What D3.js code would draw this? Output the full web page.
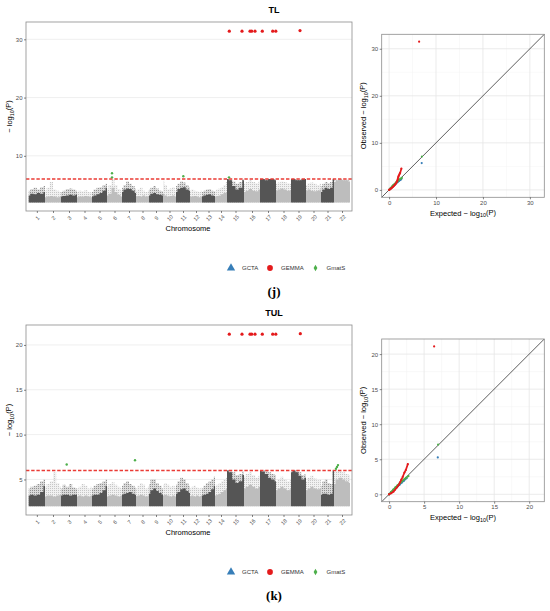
<!DOCTYPE html>
<html>
<head>
<meta charset="utf-8">
<script src="https://cdn.jsdelivr.net/npm/d3@7"></script>
<style>
  body { margin: 0; background: #fff; }
  text { font-family: "Liberation Sans", Arial, sans-serif; }
  text.panel-tag { font-family: "Liberation Serif", "Times New Roman", serif; }
</style>
</head>
<body>
<script>
// ---- data ----
const chromosomes = d3.range(1, 23).map(String);
const chromLengths = [16.3, 16, 16, 15, 15, 15, 14, 13, 14, 13, 14, 12, 13, 12, 17, 16, 16, 15, 15, 15, 13, 16];
const threshold = 6;

// upper edge of the solid mass of SNPs, 6 samples across each chromosome
const tlDense = [
  [3.2, 3.5, 3.4, 3.6, 3.5, 3.8], [2.9, 3.0, 3.1, 3.0, 2.9, 3.0], [3.0, 3.1, 3.2, 3.3, 3.2, 3.3],
  [2.9, 3.0, 3.0, 3.1, 3.0, 2.9], [3.0, 3.2, 3.4, 3.6, 4.0, 4.5], [3.2, 3.5, 4.5, 3.8, 3.3, 3.0],
  [3.8, 4.2, 4.4, 4.3, 4.0, 3.6], [3.0, 3.1, 3.0, 3.2, 3.0, 3.1], [3.2, 3.5, 3.6, 3.4, 3.3, 3.2],
  [3.5, 3.2, 3.0, 3.1, 3.2, 3.0], [3.8, 4.3, 4.5, 4.6, 4.2, 4.0], [3.0, 3.0, 3.1, 3.0, 2.9, 3.0],
  [3.0, 3.2, 3.3, 3.4, 3.2, 3.1], [3.0, 3.1, 3.2, 3.4, 3.6, 3.8], [6.0, 5.8, 4.8, 4.2, 4.5, 5.8],
  [3.8, 4.0, 4.3, 4.0, 3.9, 4.2], [6.0, 6.0, 5.8, 6.0, 6.0, 5.8], [4.0, 4.2, 4.4, 4.2, 4.0, 4.1],
  [6.0, 6.0, 5.8, 5.8, 6.0, 6.0], [4.0, 4.2, 4.0, 3.9, 4.0, 4.2], [3.8, 4.2, 4.5, 4.3, 4.5, 6.0],
  [5.5, 5.8, 6.0, 5.8, 5.8, 5.6]
];
// upper edge of the scattered SNPs
const tlSparse = [
  [4.0, 4.3, 4.5, 4.2, 4.6, 4.8], [4.0, 4.5, 5.5, 4.2, 4.0, 3.8], [3.8, 4.0, 4.3, 4.4, 4.2, 4.0],
  [3.8, 4.0, 3.9, 4.1, 3.8, 3.7], [3.8, 4.2, 4.5, 4.6, 5.0, 5.2], [4.2, 5.0, 6.0, 5.0, 4.3, 4.0],
  [4.5, 5.0, 5.6, 5.2, 4.8, 4.4], [4.0, 4.2, 4.5, 4.0, 3.8, 4.0], [4.2, 4.5, 4.8, 4.4, 4.0, 3.9],
  [5.7, 5.0, 4.2, 4.4, 4.6, 4.0], [4.8, 5.2, 5.6, 5.4, 5.0, 4.6], [4.0, 4.2, 4.0, 3.9, 3.8, 4.0],
  [3.8, 4.0, 4.2, 4.3, 4.0, 3.9], [4.0, 4.2, 4.4, 4.6, 5.0, 5.5], [6.0, 6.0, 5.6, 5.2, 5.5, 6.0],
  [5.2, 5.5, 5.8, 5.5, 5.3, 5.6], [6.0, 6.0, 6.0, 6.0, 6.0, 6.0], [5.2, 5.4, 5.6, 5.5, 5.3, 5.2],
  [6.0, 6.0, 6.0, 6.0, 6.0, 6.0], [5.0, 5.3, 5.4, 5.2, 5.0, 5.2], [4.8, 5.2, 5.5, 5.3, 5.5, 6.0],
  [6.0, 6.0, 6.0, 6.0, 6.0, 6.0]
];
const tulDense = [
  [3.2, 3.3, 3.2, 3.3, 3.6, 4.3], [3.1, 3.2, 3.2, 3.1, 3.2, 3.3], [3.2, 3.3, 3.3, 3.2, 3.3, 3.3],
  [3.1, 3.2, 3.1, 3.2, 3.1, 3.2], [3.2, 3.3, 3.3, 3.5, 3.8, 4.3], [3.1, 3.2, 3.3, 3.2, 3.1, 3.2],
  [3.3, 3.4, 3.5, 3.6, 3.4, 3.3], [3.1, 3.2, 3.3, 3.2, 3.1, 3.2], [3.4, 3.8, 4.0, 3.7, 3.5, 3.3],
  [3.2, 3.3, 3.2, 3.1, 3.2, 3.1], [3.4, 3.6, 3.9, 4.0, 3.7, 3.5], [3.1, 3.2, 3.1, 3.2, 3.1, 3.2],
  [3.2, 3.3, 3.4, 3.6, 3.9, 4.3], [3.2, 3.3, 3.4, 3.6, 3.8, 4.0], [6.0, 5.8, 5.0, 4.6, 4.8, 5.5],
  [4.0, 4.2, 4.4, 4.2, 4.0, 4.2], [6.0, 5.9, 5.6, 5.2, 5.0, 4.8], [3.8, 4.0, 4.2, 4.0, 3.8, 3.9],
  [5.8, 6.0, 5.8, 5.4, 5.0, 5.2], [3.8, 4.0, 4.2, 4.0, 3.9, 4.0], [3.3, 3.4, 3.4, 3.3, 3.4, 6.0],
  [4.5, 5.0, 5.2, 5.0, 4.8, 4.6]
];
const tulSparse = [
  [4.0, 4.2, 4.3, 4.5, 4.8, 5.0], [4.2, 4.5, 4.8, 5.8, 4.6, 4.2], [4.0, 4.4, 4.2, 4.5, 4.1, 4.0],
  [4.0, 4.2, 4.5, 4.3, 4.0, 4.2], [4.0, 4.3, 4.5, 4.6, 4.8, 5.0], [4.2, 4.5, 4.7, 4.4, 4.2, 4.0],
  [4.3, 4.6, 4.8, 4.5, 4.3, 4.1], [4.0, 4.3, 4.6, 4.4, 4.0, 4.2], [4.5, 5.0, 5.0, 4.6, 4.3, 4.0],
  [4.4, 4.6, 4.4, 4.2, 4.3, 4.1], [4.4, 4.8, 5.2, 5.0, 4.6, 4.3], [4.0, 4.2, 4.3, 4.1, 4.0, 4.1],
  [4.0, 4.3, 4.6, 4.8, 5.0, 5.3], [4.2, 4.4, 4.6, 4.8, 5.0, 5.2], [6.0, 6.0, 5.8, 5.5, 5.6, 5.9],
  [5.3, 5.6, 5.8, 5.5, 5.2, 5.4], [6.0, 6.0, 6.0, 5.8, 5.6, 5.5], [4.8, 5.0, 5.3, 5.0, 4.8, 4.9],
  [6.0, 6.0, 6.0, 5.8, 5.5, 5.6], [4.8, 5.2, 5.4, 5.1, 4.9, 5.0], [4.3, 4.8, 5.0, 4.6, 4.5, 6.0],
  [5.8, 6.0, 6.0, 5.8, 5.6, 5.5]
];

// significant hits: [chromosome, position in chromosome, -log10(P)]
const tlGemmaHits = [[15, 2.3, 31.4], [15, 15, 31.4], [16, 6, 31.4], [16, 7.7, 31.4], [16, 11, 31.4],
  [17, 2.3, 31.4], [17, 12.7, 31.4], [17, 15.8, 31.4], [19, 9, 31.5]];
const tlGmatsHits = [[6, 5, 7.0], [6, 5, 6.3], [11, 7.3, 6.5], [15, 2, 6.3]];
const tulGemmaHits = [[15, 2.3, 21.2], [15, 15, 21.2], [16, 6, 21.2], [16, 7.7, 21.2], [16, 11, 21.2],
  [17, 2.3, 21.2], [17, 12.7, 21.2], [17, 15.8, 21.2], [19, 9.3, 21.26]];
const tulGmatsHits = [[3, 5.7, 6.67], [7, 13, 7.15], [22, 2, 6.2], [22, 3, 6.4], [22, 4, 6.6]];

// QQ points: [expected, observed]
const tlQQGemma = [[0, 0], [0.2, 0.12], [0.4, 0.28], [0.6, 0.45], [0.8, 0.62], [1.0, 0.82], [1.2, 1.05],
  [1.4, 1.3], [1.6, 1.6], [1.75, 1.95], [1.85, 2.3], [1.95, 2.7], [2.05, 3.0], [2.2, 3.3], [2.35, 3.6],
  [2.62, 4.5], [6.4, 31.5]];
const tlQQGmats = [[0, 0], [0.3, 0.35], [0.6, 0.7], [0.9, 1.0], [1.2, 1.3], [1.5, 1.6], [1.8, 1.85],
  [2.1, 2.1], [2.4, 2.35], [2.7, 2.55], [7.0, 7.1]];
const tlQQGcta = [[0, 0], [0.3, 0.28], [0.6, 0.55], [0.9, 0.85], [1.2, 1.1], [1.5, 1.4], [1.8, 1.65],
  [2.1, 1.9], [2.4, 2.1], [2.6, 2.3], [6.95, 5.7]];
const tulQQGemma = [[0, 0], [0.3, 0.15], [0.62, 0.38], [0.85, 0.65], [1.1, 0.96], [1.35, 1.3],
  [1.57, 1.72], [1.75, 2.1], [1.95, 2.5], [2.19, 3.1], [2.38, 3.45], [2.67, 4.3], [6.43, 21.1]];
const tulQQGmats = [[0, 0], [0.3, 0.35], [0.6, 0.68], [0.9, 0.98], [1.2, 1.27], [1.5, 1.55],
  [1.8, 1.82], [2.1, 2.1], [2.4, 2.35], [2.76, 2.6], [7.0, 7.1]];
const tulQQGcta = [[0, 0], [0.3, 0.27], [0.6, 0.54], [0.9, 0.82], [1.2, 1.1], [1.5, 1.38],
  [1.8, 1.65], [2.1, 1.92], [2.5, 2.3], [6.95, 5.26]];

const methods = ["GCTA", "GEMMA", "GmatS"];
const methodColors = { GCTA: "#377eb8", GEMMA: "#e41a1c", GmatS: "#4daf4a" };

// ---- drawing ----
const W = 550, H = 611;
const svg = d3.select("body").append("svg").attr("width", W).attr("height", H);

const chromStart = chromLengths.map((l, i) => d3.sum(chromLengths.slice(0, i)));
const genomeLen = d3.sum(chromLengths);
const dark = "#555555", light = "#bdbdbd";

// speckle texture for the scattered part of each chromosome
const defs = svg.append("defs");
[["speckDark", dark, 0.55], ["speckLight", light, 0.8]].forEach(([id, col, op]) => {
  const p = defs.append("pattern").attr("id", id)
    .attr("patternUnits", "userSpaceOnUse").attr("width", 2).attr("height", 2);
  p.append("rect").attr("width", 2).attr("height", 2).attr("fill", col).attr("fill-opacity", 0.22);
  p.append("rect").attr("width", 1).attr("height", 1).attr("fill", col).attr("fill-opacity", op);
});

function logLabel(sel, prefix) {
  sel.append("tspan").text(prefix + "\u2212 log");
  sel.append("tspan").attr("font-size", "0.72em").attr("dy", "0.3em").text("10");
  sel.append("tspan").attr("dy", "-0.3em").text("(P)");
}

function styleAxis(g) {
  g.select(".domain").remove();
  g.selectAll(".tick line").attr("stroke", "#333").attr("stroke-width", 0.6);
  g.selectAll(".tick text").attr("fill", "#4d4d4d").attr("font-size", 6);
}

function manhattan(box, dense, sparse, gemmaHits, gmatsHits, yTicks, title, label) {
  const x = d3.scaleLinear()
    .domain([-genomeLen * 0.0084, genomeLen * 1.0062])
    .range([box.left, box.right]);
  const maxObs = d3.max(gemmaHits, d => d[2]);
  const pad = (maxObs - 2) * 0.05;
  const y = d3.scaleLinear().domain([2 - pad, maxObs + pad]).range([box.bottom, box.top]);

  const g = svg.append("g");
  g.selectAll(".hgrid").data(yTicks).enter().append("line")
    .attr("x1", box.left).attr("x2", box.right)
    .attr("y1", d => y(d)).attr("y2", d => y(d))
    .attr("stroke", "#ebebeb").attr("stroke-width", 0.8);

  const area = d3.area().curve(d3.curveStep)
    .x(d => x(d[0])).y0(y(2)).y1(d => y(d[1]));
  const profile = (arr, i) => arr.map((v, j) => [chromStart[i] + chromLengths[i] * j / (arr.length - 1), v]);

  g.selectAll(".sparse").data(sparse).enter().append("path")
    .attr("d", (arr, i) => area(profile(arr, i)))
    .attr("fill", (d, i) => i % 2 ? "url(#speckLight)" : "url(#speckDark)");
  g.selectAll(".dense").data(dense).enter().append("path")
    .attr("d", (arr, i) => area(profile(arr, i)))
    .attr("fill", (d, i) => i % 2 ? light : dark);

  g.append("line")
    .attr("x1", box.left).attr("x2", box.right)
    .attr("y1", y(threshold)).attr("y2", y(threshold))
    .attr("stroke", "#ea3b35").attr("stroke-width", 1.5).attr("stroke-dasharray", "3.4,1.8");

  const hx = d => x(chromStart[d[0] - 1] + d[1]);
  g.selectAll(".gmats").data(gmatsHits).enter().append("circle")
    .attr("cx", hx).attr("cy", d => y(d[2])).attr("r", 1.2)
    .attr("fill", methodColors.GmatS);
  g.selectAll(".gemma").data(gemmaHits).enter().append("circle")
    .attr("cx", hx).attr("cy", d => y(d[2])).attr("r", 1.6)
    .attr("fill", methodColors.GEMMA);

  g.append("rect")
    .attr("x", box.left).attr("y", box.top)
    .attr("width", box.right - box.left).attr("height", box.bottom - box.top)
    .attr("fill", "none").attr("stroke", "#8c8c8c").attr("stroke-width", 0.8);

  const yAxis = g.append("g").attr("transform", `translate(${box.left},0)`)
    .call(d3.axisLeft(y).tickValues(yTicks).tickSize(2).tickPadding(1.5));
  styleAxis(yAxis);

  const centers = chromLengths.map((l, i) => chromStart[i] + l / 2);
  const xAxis = g.append("g").attr("transform", `translate(0,${box.bottom})`)
    .call(d3.axisBottom(x).tickValues(centers).tickSize(2).tickFormat((d, i) => chromosomes[i]));
  styleAxis(xAxis);
  xAxis.selectAll(".tick text")
    .attr("y", 0).attr("dy", "0.35em").attr("font-size", 5.5)
    .attr("text-anchor", "middle")
    .attr("transform", "translate(0,7) rotate(-45)");

  g.append("text").attr("x", 274).attr("y", box.top - 9)
    .attr("text-anchor", "middle").attr("font-size", 9).attr("font-weight", "bold")
    .text(title);
  g.append("text").attr("x", (box.left + box.right) / 2 - 1).attr("y", box.bottom + 20)
    .attr("text-anchor", "middle").attr("font-size", 7.5).text("Chromosome");
  g.append("text")
    .attr("transform", `translate(12,${(box.top + box.bottom) / 2}) rotate(-90)`)
    .attr("text-anchor", "middle").attr("font-size", 7.5)
    .call(logLabel, "");

  // legend
  const ly = box.bottom + 57;
  const items = [
    { m: "GCTA", sym: d3.symbolTriangle, size: 30, x: 231 },
    { m: "GEMMA", sym: d3.symbolCircle, size: 26, x: 270 },
    { m: "GmatS", sym: d3.symbolDiamond, size: 12, x: 315.5 }
  ];
  items.forEach(it => {
    g.append("path").attr("d", d3.symbol().type(it.sym).size(it.size)())
      .attr("transform", `translate(${it.x},${ly})`)
      .attr("fill", methodColors[it.m]);
    g.append("text").attr("x", it.x + 11).attr("y", ly + 2.1)
      .attr("font-size", 6).attr("fill", "#333").text(it.m);
  });
  g.append("text").attr("class", "panel-tag").attr("x", 274).attr("y", ly + 28)
    .attr("text-anchor", "middle").attr("font-size", 13).attr("font-weight", "bold")
    .text(label);
}

function qq(box, series, ticks) {
  const maxObs = d3.max(series, s => d3.max(s.pts, d => d[1]));
  const pad = maxObs * 0.05;
  const dom = [-pad, maxObs + pad];
  const x = d3.scaleLinear().domain(dom).range([box.left, box.right]);
  const y = d3.scaleLinear().domain(dom).range([box.bottom, box.top]);
  const step = ticks[1] - ticks[0];
  const minor = ticks.map(t => t + step / 2).filter(t => t < dom[1]);

  const g = svg.append("g");
  g.selectAll(".minx").data(minor).enter().append("line")
    .attr("x1", d => x(d)).attr("x2", d => x(d)).attr("y1", box.top).attr("y2", box.bottom)
    .attr("stroke", "#f3f3f3").attr("stroke-width", 0.5);
  g.selectAll(".miny").data(minor).enter().append("line")
    .attr("y1", d => y(d)).attr("y2", d => y(d)).attr("x1", box.left).attr("x2", box.right)
    .attr("stroke", "#f3f3f3").attr("stroke-width", 0.5);
  g.selectAll(".majx").data(ticks).enter().append("line")
    .attr("x1", d => x(d)).attr("x2", d => x(d)).attr("y1", box.top).attr("y2", box.bottom)
    .attr("stroke", "#e6e6e6").attr("stroke-width", 0.8);
  g.selectAll(".majy").data(ticks).enter().append("line")
    .attr("y1", d => y(d)).attr("y2", d => y(d)).attr("x1", box.left).attr("x2", box.right)
    .attr("stroke", "#e6e6e6").attr("stroke-width", 0.8);

  g.append("line")
    .attr("x1", x(dom[0])).attr("y1", y(dom[0])).attr("x2", x(dom[1])).attr("y2", y(dom[1]))
    .attr("stroke", "#333").attr("stroke-width", 0.8);

  const line = d3.line().x(d => x(d[0])).y(d => y(d[1]));
  series.forEach(s => {
    const body = s.pts.filter(d => d[0] < 3);
    g.append("path").attr("d", line(body))
      .attr("fill", "none").attr("stroke", methodColors[s.m])
      .attr("stroke-width", 1.7).attr("stroke-linecap", "round").attr("stroke-linejoin", "round");
    g.selectAll(null).data(s.pts).enter().append("circle")
      .attr("cx", d => x(d[0])).attr("cy", d => y(d[1])).attr("r", 1.1)
      .attr("fill", methodColors[s.m]);
  });

  g.append("rect")
    .attr("x", box.left).attr("y", box.top)
    .attr("width", box.right - box.left).attr("height", box.bottom - box.top)
    .attr("fill", "none").attr("stroke", "#8c8c8c").attr("stroke-width", 0.8);

  const ya = g.append("g").attr("transform", `translate(${box.left},0)`)
    .call(d3.axisLeft(y).tickValues(ticks).tickSize(2).tickPadding(1.5));
  styleAxis(ya);
  const xa = g.append("g").attr("transform", `translate(0,${box.bottom})`)
    .call(d3.axisBottom(x).tickValues(ticks).tickSize(2).tickPadding(1));
  styleAxis(xa);

  g.append("text").attr("x", (box.left + box.right) / 2).attr("y", box.bottom + 18.5)
    .attr("text-anchor", "middle").attr("font-size", 7.5)
    .call(logLabel, "Expected ");
  g.append("text")
    .attr("transform", `translate(366,${(box.top + box.bottom) / 2}) rotate(-90)`)
    .attr("text-anchor", "middle").attr("font-size", 7.5)
    .call(logLabel, "Observed ");
}

manhattan({ left: 26, right: 352, top: 22, bottom: 211 }, tlDense, tlSparse,
  tlGemmaHits, tlGmatsHits, [10, 20, 30], "TL", "(j)");
qq({ left: 381.7, right: 544.3, top: 34.3, bottom: 197.3 }, [
  { m: "GCTA", pts: tlQQGcta }, { m: "GmatS", pts: tlQQGmats }, { m: "GEMMA", pts: tlQQGemma }
], [0, 10, 20, 30]);

manhattan({ left: 26, right: 352, top: 325, bottom: 515 }, tulDense, tulSparse,
  tulGemmaHits, tulGmatsHits, [5, 10, 15, 20], "TUL", "(k)");
qq({ left: 381.7, right: 544.3, top: 339, bottom: 501.7 }, [
  { m: "GCTA", pts: tulQQGcta }, { m: "GmatS", pts: tulQQGmats }, { m: "GEMMA", pts: tulQQGemma }
], [0, 5, 10, 15, 20]);
</script>
</body>
</html>
